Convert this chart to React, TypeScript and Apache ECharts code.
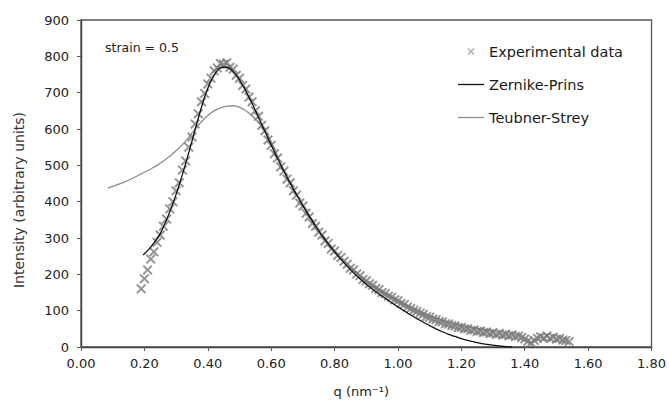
import React, { useEffect, useRef } from "react";
import * as echarts from "echarts";

// Experimental data (q in nm^-1, intensity in arbitrary units)
const qExp = [
  0.19, 0.2, 0.21, 0.22, 0.23, 0.24, 0.25, 0.26, 0.27, 0.28, 0.29, 0.3, 0.31, 0.32, 0.33, 0.34, 0.35, 0.36, 0.37, 0.38,
  0.39, 0.4, 0.41, 0.42, 0.43, 0.44, 0.45, 0.46, 0.47, 0.48, 0.49, 0.5, 0.51, 0.52, 0.53, 0.54, 0.55, 0.56, 0.57, 0.58,
  0.59, 0.6, 0.61, 0.62, 0.63, 0.64, 0.65, 0.66, 0.67, 0.68, 0.69, 0.7, 0.71, 0.72, 0.73, 0.74, 0.75, 0.76, 0.77, 0.78,
  0.79, 0.8, 0.81, 0.82, 0.83, 0.84, 0.85, 0.86, 0.87, 0.88, 0.89, 0.9, 0.91, 0.92, 0.93, 0.94, 0.95, 0.96, 0.97, 0.98,
  0.99, 1.0, 1.01, 1.02, 1.03, 1.04, 1.05, 1.06, 1.07, 1.08, 1.09, 1.1, 1.11, 1.12, 1.13, 1.14, 1.15, 1.16, 1.17, 1.18,
  1.19, 1.2, 1.21, 1.22, 1.23, 1.24, 1.25, 1.26, 1.27, 1.28, 1.29, 1.3, 1.31, 1.32, 1.33, 1.34, 1.35, 1.36, 1.37, 1.38,
  1.39, 1.4, 1.41, 1.42, 1.43, 1.44, 1.45, 1.46, 1.47, 1.48, 1.49, 1.5, 1.51, 1.52, 1.53, 1.54,
];
const intensityExp = [
  160, 188, 212, 242, 262, 288, 308, 332, 352, 380, 400, 430, 452, 487, 512, 550, 578, 614, 642, 675,
  698, 724, 740, 760, 768, 780, 778, 782, 770, 765, 748, 740, 720, 710, 688, 675, 650, 635, 610, 595,
  570, 555, 532, 520, 496, 484, 462, 452, 430, 418, 396, 388, 368, 358, 340, 332, 316, 308, 292, 285,
  270, 264, 252, 246, 236, 228, 217, 212, 201, 196, 186, 182, 174, 170, 161, 158, 150, 147, 140, 137,
  130, 127, 120, 117, 110, 106, 101, 98, 93, 90, 84, 82, 77, 75, 70, 69, 64, 63, 59, 58,
  54, 54, 50, 50, 46, 47, 43, 44, 40, 41, 37, 39, 35, 37, 33, 35, 31, 33, 29, 30,
  26, 22, 16, 12, 18, 24, 28, 25, 30, 24, 27, 22, 24, 19, 18, 15,
];

// Zernike-Prins fit
const qZP = [
  0.196, 0.22, 0.25, 0.28, 0.3, 0.32, 0.34, 0.36, 0.38, 0.4, 0.42, 0.44, 0.46, 0.48, 0.5, 0.52, 0.54, 0.56, 0.58, 0.6,
  0.62, 0.64, 0.66, 0.68, 0.7, 0.72, 0.74, 0.76, 0.78, 0.8, 0.82, 0.84, 0.86, 0.88, 0.9, 0.92, 0.94, 0.96, 0.98, 1.0,
  1.02, 1.04, 1.06, 1.08, 1.1, 1.12, 1.14, 1.16, 1.18, 1.2, 1.22, 1.24, 1.26, 1.28, 1.3, 1.32, 1.34, 1.36,
];
const intensityZP = [
  253, 275, 312, 372, 420, 475, 535, 598, 660, 712, 748, 768, 770, 758, 735, 705, 670, 632, 594, 556,
  519, 484, 451, 419, 389, 360, 333, 307, 284, 262, 241, 222, 204, 188, 173, 159, 146, 134, 122, 110,
  99, 88, 78, 68, 59, 50, 42, 35, 29, 23, 18, 14, 10, 7, 5, 3, 1, 0,
];

// Teubner-Strey fit
const qTS = [
  0.085, 0.1, 0.12, 0.14, 0.16, 0.18, 0.2, 0.22, 0.24, 0.26, 0.28, 0.3, 0.32, 0.34, 0.36, 0.38, 0.4, 0.42, 0.44, 0.46,
  0.48, 0.5, 0.52, 0.54, 0.56, 0.58, 0.6, 0.65, 0.7, 0.75, 0.8, 0.85, 0.9, 0.95, 1.0, 1.05, 1.1, 1.15, 1.2, 1.25, 1.3,
];
const intensityTS = [
  438, 442, 448, 455, 463, 472, 481, 490, 500, 512, 525, 540, 557, 577, 600, 620, 637, 650, 658, 663,
  664, 660, 650, 636, 618, 596, 565, 468, 392, 322, 265, 220, 183, 153, 128, 105, 86, 71, 60, 51, 44,
];

const FONT = "DejaVu Sans";
const CROSS = "path://M0,1.4L1.4,0L5,3.6L8.6,0L10,1.4L6.4,5L10,8.6L8.6,10L5,6.4L1.4,10L0,8.6L3.6,5Z";
const LINE_ICON = "path://M0,0H26V1.3H0Z";

export default function App() {
  const ref = useRef<HTMLDivElement>(null);
  useEffect(() => {
    if (!ref.current) return;
    const chart = echarts.init(ref.current, undefined, { renderer: "svg" });
    const zip = (xs: number[], ys: number[]) => xs.map((x, i) => [x, ys[i]]);
    chart.setOption({
      animation: false,
      backgroundColor: "#ffffff",
      grid: {
        left: 81,
        right: 16,
        top: 20,
        bottom: 58,
        show: true,
        borderColor: "#555",
        borderWidth: 1.3,
      },
      xAxis: {
        type: "value",
        min: 0,
        max: 1.8,
        interval: 0.2,
        name: "q (nm⁻¹)",
        nameLocation: "middle",
        nameGap: 38,
        nameTextStyle: { fontFamily: FONT, fontSize: 13, color: "#222", padding: [0, 10, 0, 0] },
        axisLine: { lineStyle: { color: "#444", width: 1.4 } },
        axisTick: { show: true, length: 4, lineStyle: { color: "#555" } },
        axisLabel: {
          margin: 10,
          fontFamily: FONT,
          fontSize: 13,
          color: "#222",
          formatter: (v: number) => v.toFixed(2),
        },
        splitLine: { show: false },
      },
      yAxis: {
        type: "value",
        min: 0,
        max: 900,
        interval: 100,
        name: "Intensity (arbitrary units)",
        nameLocation: "middle",
        nameGap: 55,
        nameTextStyle: { fontFamily: FONT, fontSize: 14, color: "#333", padding: [0, 33, 0, 0] },
        axisLine: { show: true, lineStyle: { color: "#444", width: 1.4 } },
        axisTick: { show: true, length: 4, lineStyle: { color: "#555" } },
        axisLabel: { margin: 12, fontFamily: FONT, fontSize: 13, color: "#222" },
        splitLine: { show: false },
      },
      legend: {
        orient: "vertical",
        left: 453,
        top: 39,
        itemWidth: 26,
        itemHeight: 7,
        itemGap: 18,
        textStyle: { fontFamily: FONT, fontSize: 14.5, color: "#1a1a1a" },
        data: [
          { name: "Experimental data", icon: CROSS, itemStyle: { color: "#999" } },
          { name: "Zernike-Prins", icon: LINE_ICON },
          { name: "Teubner-Strey", icon: LINE_ICON },
        ],
      },
      graphic: [
        {
          type: "text",
          left: 105,
          top: 41,
          style: { text: "strain = 0.5", fontFamily: FONT, fontSize: 12.5, fill: "#222" },
        },
      ],
      series: [
        {
          name: "Experimental data",
          type: "scatter",
          symbol: CROSS,
          symbolSize: 10,
          itemStyle: { color: "#7a7a7a" },
          data: zip(qExp, intensityExp),
          z: 2,
        },
        {
          name: "Zernike-Prins",
          type: "line",
          symbol: "none",
          showSymbol: false,
          smooth: 0.3,
          lineStyle: { color: "#111", width: 1.3 },
          itemStyle: { color: "#111" },
          data: zip(qZP, intensityZP),
          z: 3,
        },
        {
          name: "Teubner-Strey",
          type: "line",
          symbol: "none",
          showSymbol: false,
          smooth: 0.3,
          lineStyle: { color: "#8c8c8c", width: 1.3 },
          itemStyle: { color: "#8c8c8c" },
          data: zip(qTS, intensityTS),
          z: 1,
        },
      ],
    });
    return () => chart.dispose();
  }, []);
  return <div ref={ref} style={{ width: 669, height: 405, position: "absolute", left: 0, top: 0 }} />;
}
